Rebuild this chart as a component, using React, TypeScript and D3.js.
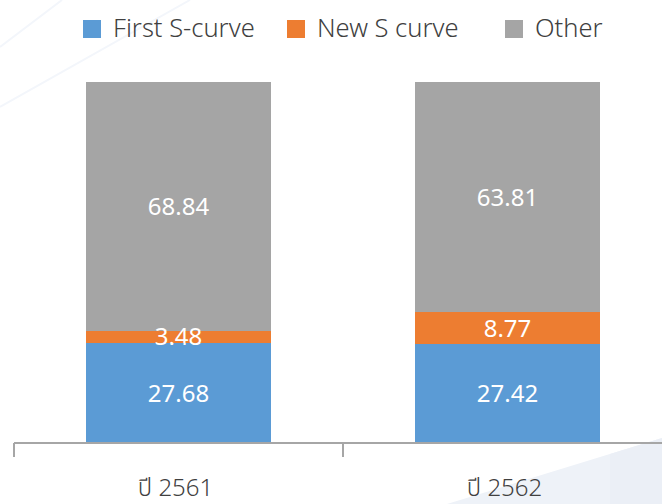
import { useEffect, useRef } from "react";
import * as d3 from "d3";

const categories = ["ปี 2561", "ปี 2562"];
const seriesNames = ["First S-curve", "New S curve", "Other"];
const firstSCurve = [27.68, 27.42];
const newSCurve = [3.48, 8.77];
const other = [68.84, 63.81];
const colors = ["#5b9bd5", "#ed7d31", "#a5a5a5"];

const width = 662;
const height = 504;
const font = "'Noto Sans', 'Noto Sans Thai', 'Open Sans', sans-serif";

export default function App() {
  const svgRef = useRef<SVGSVGElement>(null);

  useEffect(() => {
    if (!svgRef.current) return;
    const svg = d3.select(svgRef.current);
    svg.selectAll("*").remove();

    // faint background decoration
    const bg = svg.append("g");
    bg.append("path")
      .attr("d", `M447,504 L662,438 L662,504 Z`)
      .attr("fill", "#eef2f8");
    bg.append("path")
      .attr("d", `M610,454 L662,438 L662,504 L610,504 Z`)
      .attr("fill", "#ebeff6");
    bg.append("line").attr("x1", 0).attr("y1", 47).attr("x2", 62).attr("y2", 0)
      .attr("stroke", "#f3f6fb").attr("stroke-width", 2);
    bg.append("line").attr("x1", 0).attr("y1", 107).attr("x2", 190).attr("y2", 0)
      .attr("stroke", "#f3f6fb").attr("stroke-width", 2);

    const rows = categories.map((c, i) => ({
      category: c,
      [seriesNames[0]]: firstSCurve[i],
      [seriesNames[1]]: newSCurve[i],
      [seriesNames[2]]: other[i],
    }));

    const x = d3.scaleBand<string>().domain(categories).range([14, 672]).padding(0);
    const y = d3.scaleLinear().domain([0, 100]).range([443, 82]);
    const color = d3.scaleOrdinal<string, string>().domain(seriesNames).range(colors);
    const barW = x.bandwidth() * 0.56;

    const stacked = d3.stack<any>().keys(seriesNames)(rows);

    const layers = svg
      .append("g")
      .attr("shape-rendering", "crispEdges")
      .selectAll("g")
      .data(stacked)
      .enter()
      .append("g")
      .attr("fill", (d) => color(d.key));

    layers
      .selectAll("rect")
      .data((d) => d)
      .enter()
      .append("rect")
      .attr("x", (d) => x(d.data.category)! + x.bandwidth() / 2 - barW / 2)
      .attr("width", barW)
      .attr("y", (d) => y(d[1]))
      .attr("height", (d) => y(d[0]) - y(d[1]));

    // value labels
    const labels = svg.append("g");
    stacked.forEach((layer) => {
      layer.forEach((d) => {
        labels
          .append("text")
          .attr("x", x(d.data.category)! + x.bandwidth() / 2)
          .attr("y", (y(d[0]) + y(d[1])) / 2)
          .attr("dy", "0.36em")
          .attr("text-anchor", "middle")
          .style("font-family", font)
          .style("font-size", "24px")
          .style("fill", "#ffffff")
          .text((d[1] - d[0]).toFixed(2));
      });
    });

    // x axis
    const axis = svg.append("g").attr("transform", "translate(0,443)");
    axis.append("line")
      .attr("x1", 14).attr("x2", width)
      .attr("stroke", "#a6a6a6").attr("stroke-width", 2);
    const tickPos = [...categories.map((c) => x(c)!), 672];
    axis.selectAll(".tick")
      .data(tickPos)
      .enter()
      .append("line")
      .attr("x1", (d) => d).attr("x2", (d) => d)
      .attr("y1", 0).attr("y2", 14)
      .attr("stroke", "#a6a6a6").attr("stroke-width", 2);
    axis.selectAll(".cat")
      .data(categories)
      .enter()
      .append("text")
      .attr("x", (d) => x(d)! + x.bandwidth() / 2 - 3)
      .attr("y", 53)
      .attr("text-anchor", "middle")
      .style("font-family", font)
      .style("font-size", "24px")
      .style("font-weight", "300")
      .style("fill", "#404040")
      .text((d) => d);

    // legend
    const legendX = [83, 287, 505];
    const legend = svg.append("g");
    const item = legend
      .selectAll("g")
      .data(seriesNames)
      .enter()
      .append("g")
      .attr("transform", (d, i) => `translate(${legendX[i]},20)`);
    item.append("rect")
      .attr("width", 18).attr("height", 18)
      .attr("fill", (d) => color(d));
    item.append("text")
      .attr("x", 30)
      .attr("y", 8)
      .attr("dy", "0.36em")
      .style("font-family", font)
      .style("font-size", "25.5px")
      .style("font-weight", "300")
      .style("fill", "#404040")
      .text((d) => d);
  }, []);

  return (
    <div style={{ position: "absolute", left: 0, top: 0 }}>
      <svg ref={svgRef} width={width} height={height} style={{ display: "block", background: "#fff" }}></svg>
    </div>
  );
}
